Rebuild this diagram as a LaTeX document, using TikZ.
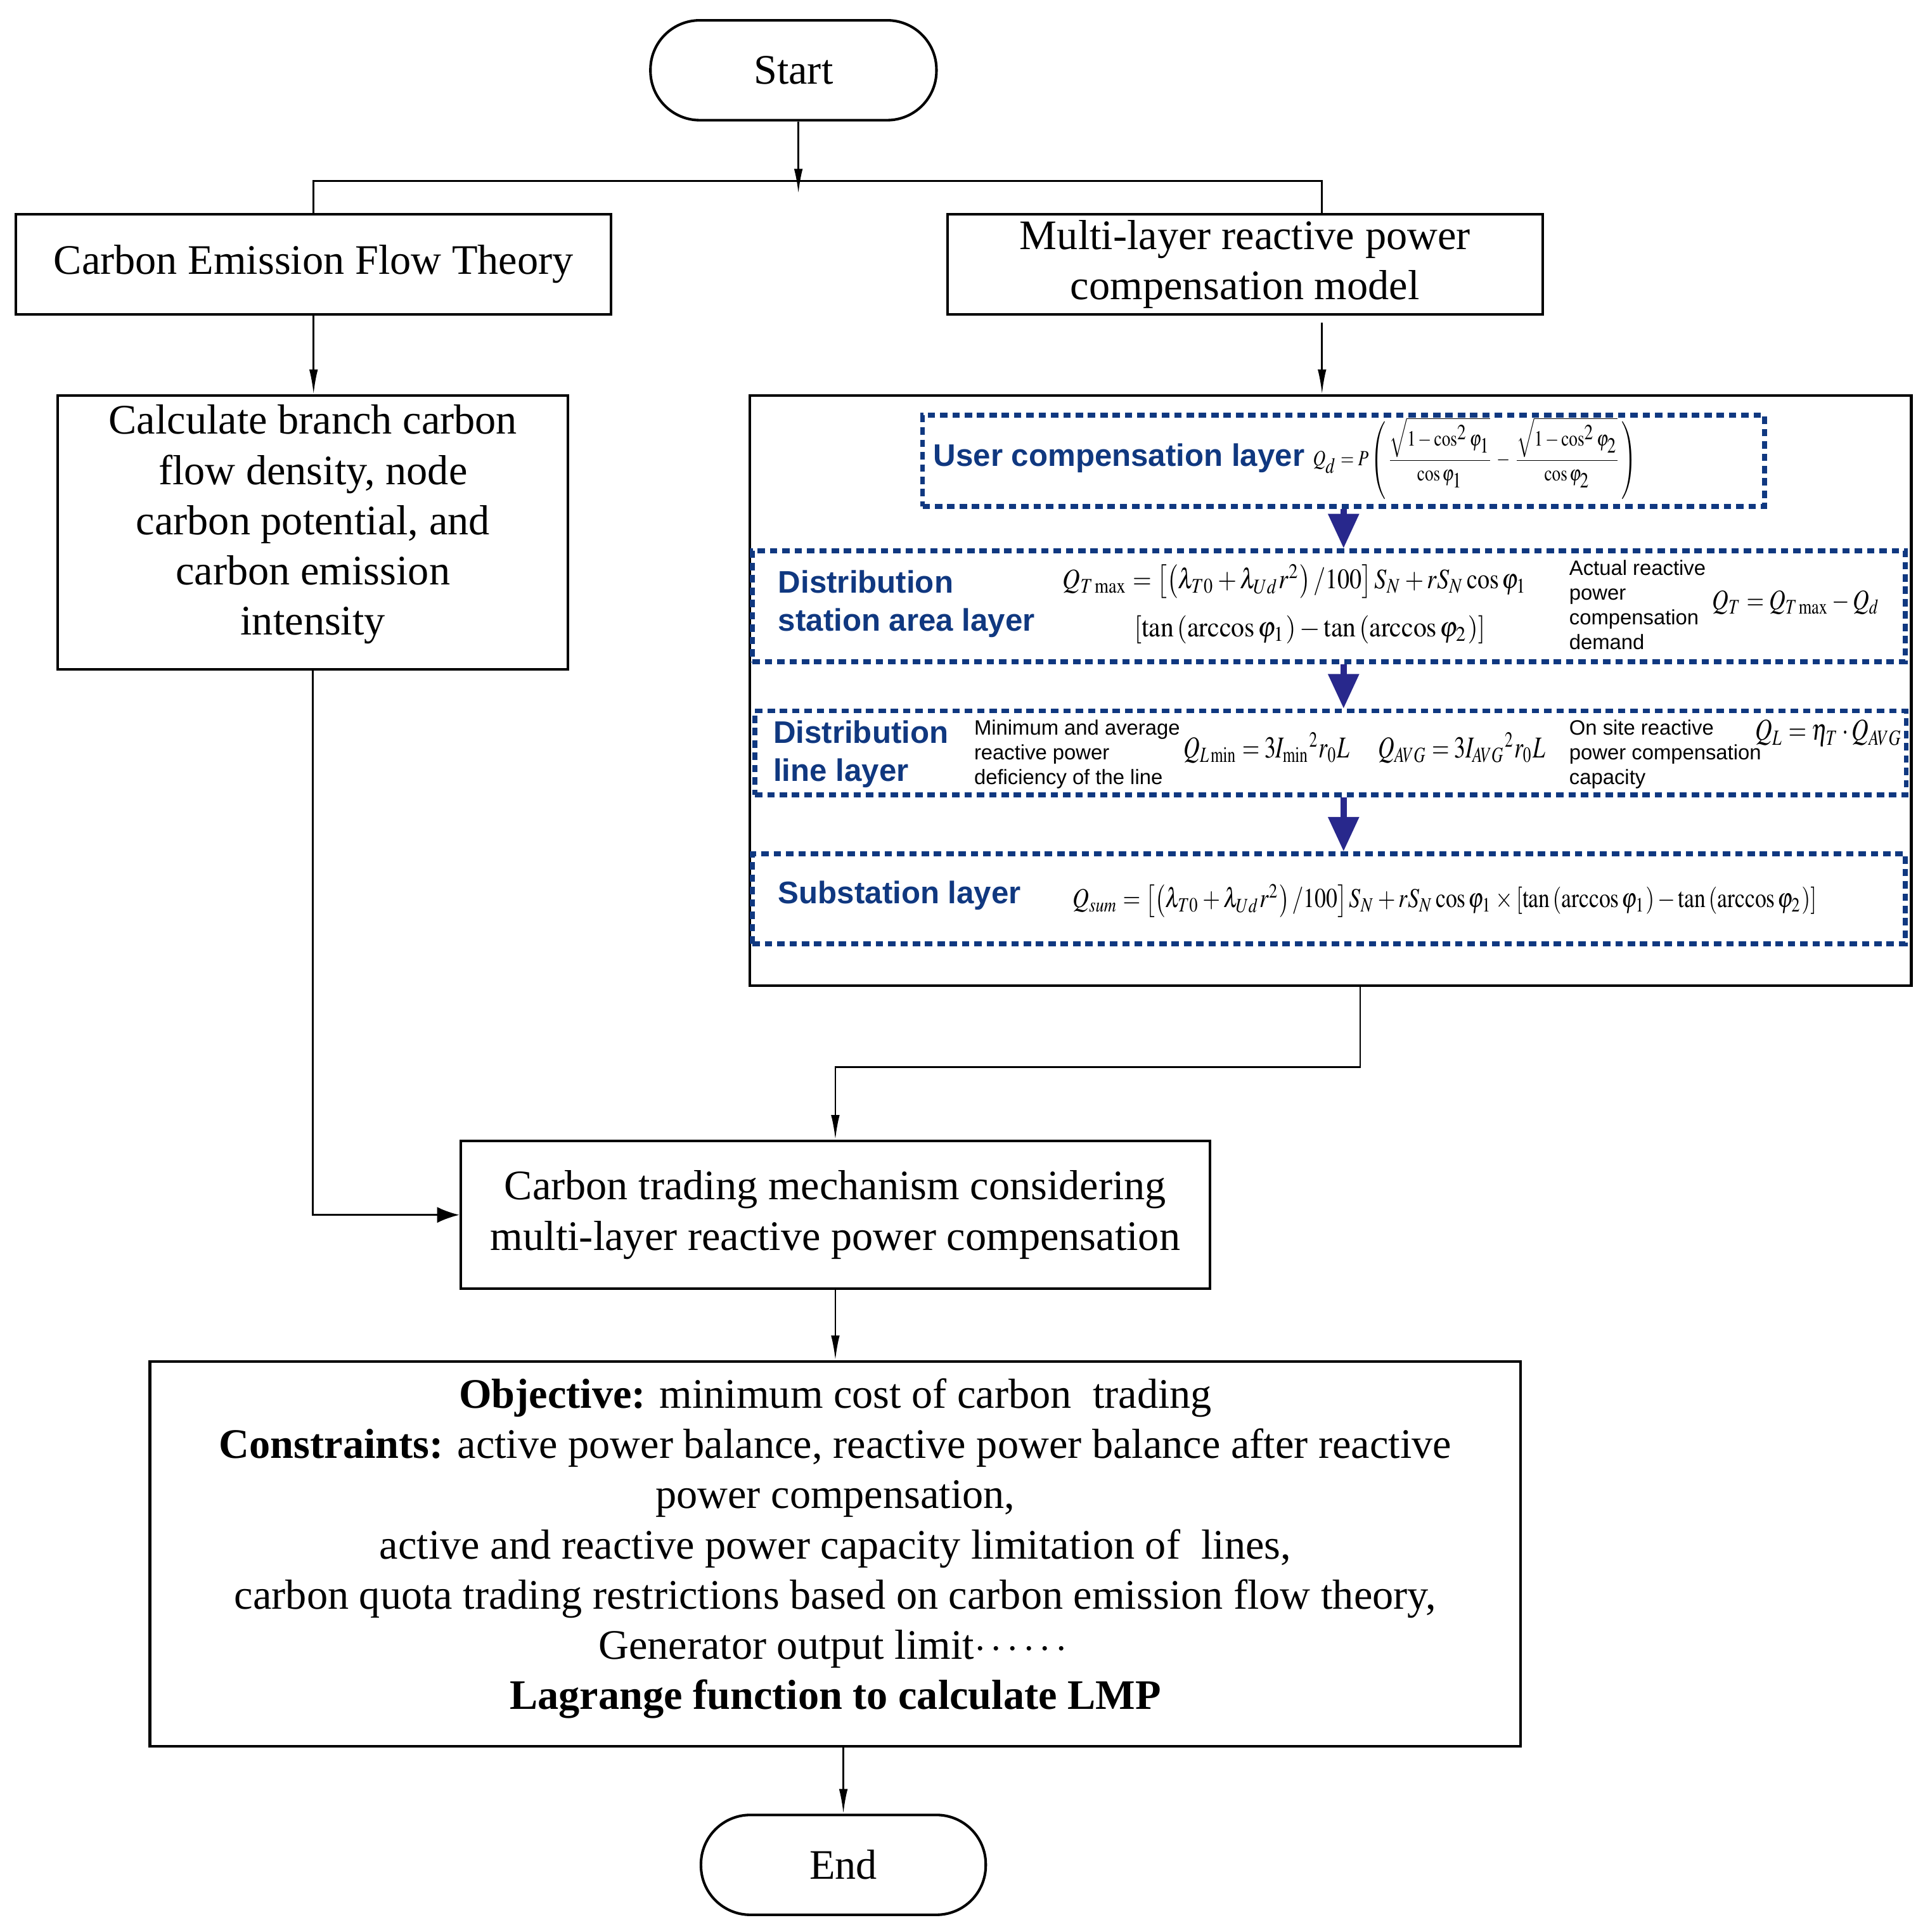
\documentclass[tikz,border=0pt]{standalone}
\usepackage{amsmath,amssymb}
\usepackage{graphicx}
\usepackage{mathptmx}
\usepackage{fontspec}
\setmainfont{Liberation Serif}
\setsansfont{Liberation Sans}
\usetikzlibrary{arrows.meta}
\definecolor{layerblue}{RGB}{16,56,128}
\definecolor{arrowblue}{RGB}{40,40,140}
% narrow formulas like the Visio ones
\newcommand{\narroweq}[2]{\scalebox{#1}[1]{#2}}

\begin{document}
\begin{tikzpicture}[x=0.01cm,y=-0.01cm,
    box/.style={draw,line width=0.6pt,align=center,inner sep=0pt,font=\fontsize{9.7}{11.6}\selectfont},
    pill/.style={box,rounded corners=0.4cm},
    layer/.style={draw=layerblue,line width=1.1pt,dash pattern=on 0.06cm off 0.04cm,inner sep=0pt},
    tag/.style={anchor=west,align=left,text=layerblue,inner sep=0pt,font=\sffamily\bfseries\fontsize{7.2}{8.8}\selectfont},
    note/.style={anchor=west,align=left,inner sep=0pt,font=\sffamily\fontsize{4.8}{5.7}\selectfont},
    eq/.style={anchor=west,inner sep=0pt,font=\fontsize{7}{8.4}\selectfont},
    arr/.style={line width=0.4pt,-{Latex[length=0.2cm,width=0.07cm]}},
    bigarr/.style={line width=0.4pt,-{Latex[length=0.18cm,width=0.13cm]}},
    bluearr/.style={arrowblue,line width=1.5pt,-{Triangle[length=0.28cm,width=0.24cm]}}]
    \useasboundingbox (0,0) rectangle (1566,1568);

    % Start and the two branches
    \node[pill,minimum width=2.32cm,minimum height=0.81cm] (start) at (644,57) {Start};
    \node[box,minimum width=4.83cm,minimum height=0.81cm] (cef) at (254.5,214.5) {Carbon Emission Flow Theory};
    \node[box,minimum width=4.83cm,minimum height=0.81cm] (mlr) at (1010.5,214.5) {Multi-layer reactive power\\compensation model};
    \node[box,minimum width=4.14cm,minimum height=2.22cm,text depth=0.2cm] (calc) at (254,432)
        {Calculate branch carbon\\flow density, node\\carbon potential, and\\carbon emission\\intensity};

    % Multi-layer panel
    \node[draw,line width=0.6pt,minimum width=9.42cm,minimum height=4.79cm] (panel) at (1080,560.5) {};
    \node[layer,minimum width=6.83cm,minimum height=0.74cm] (user) at (1090.5,374) {};
    \node[layer,minimum width=9.35cm,minimum height=0.90cm] (station) at (1078.5,492) {};
    \node[layer,minimum width=9.34cm,minimum height=0.68cm] (line) at (1080,611) {};
    \node[layer,minimum width=9.35cm,minimum height=0.73cm] (sub) at (1078.5,729.5) {};

    % Lower part
    \node[box,minimum width=6.08cm,minimum height=1.20cm] (trade) at (678,986)
        {Carbon trading mechanism considering\\multi-layer reactive power compensation};
    \node[box,minimum width=11.12cm,minimum height=3.12cm,text depth=0.16cm] (obj) at (678,1261)
        {\textbf{Objective:} minimum cost of carbon\ \ trading\\
         \textbf{Constraints:} active power balance, reactive power balance after reactive\\
         power compensation,\\
         active and reactive power capacity limitation of\ \ lines,\\
         carbon quota trading restrictions based on carbon emission flow theory,\\
         Generator output limit$\cdots\cdots$\\
         \textbf{Lagrange function to calculate LMP}};
    \node[pill,minimum width=2.31cm,minimum height=0.81cm] (end) at (684.5,1513.5) {End};

    % Layer labels
    \node[tag] (usertag) at (757,372) {User compensation layer};
    \node[eq,font=\fontsize{5}{6}\selectfont] (usereq) at (1065,372)
        {\narroweq{0.8}{$Q_d=P\left(\dfrac{\sqrt{1-\cos^2\varphi_1}}{\cos\varphi_1}-\dfrac{\sqrt{1-\cos^2\varphi_2}}{\cos\varphi_2}\right)$}};

    \node[tag] (stattag) at (631,490) {Distribution\\station area layer};
    \node[eq,font=\fontsize{6.5}{7.8}\selectfont] (stateqa) at (862,472)
        {\narroweq{0.86}{$Q_{T\max}=\left[\left(\lambda_{T0}+\lambda_{Ud}r^{2}\right)/100\right]S_N+rS_N\cos\varphi_1$}};
    \node[eq,font=\fontsize{6.5}{7.8}\selectfont] (stateqb) at (920,511)
        {\narroweq{0.94}{$\left[\tan\left(\arccos\varphi_1\right)-\tan\left(\arccos\varphi_2\right)\right]$}};
    \node[note] (statnote) at (1273,491) {Actual reactive\\power\\compensation\\demand};
    \node[eq,font=\fontsize{6.5}{7.8}\selectfont] (stateqc) at (1389,489) {\narroweq{0.8}{$Q_T=Q_{T\max}-Q_d$}};

    \node[tag] (linetag) at (627,612) {Distribution\\line layer};
    \node[note] (linenote) at (790,612) {Minimum and average\\reactive power\\deficiency of the line};
    \node[eq] (lineeqa) at (960,607) {\narroweq{0.74}{$Q_{L\min}=3I_{\min}{}^{2}r_0L$}};
    \node[eq] (lineeqb) at (1118,607) {\narroweq{0.74}{$Q_{AVG}=3I_{AVG}{}^{2}r_0L$}};
    \node[note] (sitenote) at (1273,612) {On site reactive\\power compensation\\capacity};
    \node[eq] (lineeqc) at (1424,595) {\narroweq{0.77}{$Q_L=\eta_T\cdot Q_{AVG}$}};

    \node[tag] (subtag) at (631,727) {Substation layer};
    \node[eq,font=\fontsize{6.3}{7.6}\selectfont] (subeq) at (870,731)
        {\narroweq{0.83}{$Q_{sum}=\left[\left(\lambda_{T0}+\lambda_{Ud}r^{2}\right)/100\right]S_N+rS_N\cos\varphi_1\times\left[\tan\left(\arccos\varphi_1\right)-\tan\left(\arccos\varphi_2\right)\right]$}};

    % Connectors
    \coordinate (split) at (648,157);
    \coordinate (rbranch) at (1073,147);
    \coordinate (pdrop) at (1104,866);
    \draw[arr] (start.south -| split) -- (split);
    \draw[line width=0.4pt] (cef.north) |- (rbranch) -- (rbranch |- mlr.north);
    \draw[arr] (cef.south) -- (cef.south |- calc.north);
    \draw[arr,shorten <=0.06cm] (rbranch |- mlr.south) -- (rbranch |- panel.north);
    \draw[arr] (pdrop |- panel.south) -- (pdrop) -| (trade.north);
    \draw[bigarr] (calc.south) |- (trade.west);
    \draw[arr] (trade) -- (obj);
    \draw[arr] (obj.south -| end.north) -- (end.north);

    % Blue arrows between layers
    \draw[bluearr] (user.south) -- (user.south |- station.north);
    \draw[bluearr] (station.south -| user.south) -- (line.north -| user.south);
    \draw[bluearr] (line.south -| user.south) -- (sub.north -| user.south);
\end{tikzpicture}
\end{document}
